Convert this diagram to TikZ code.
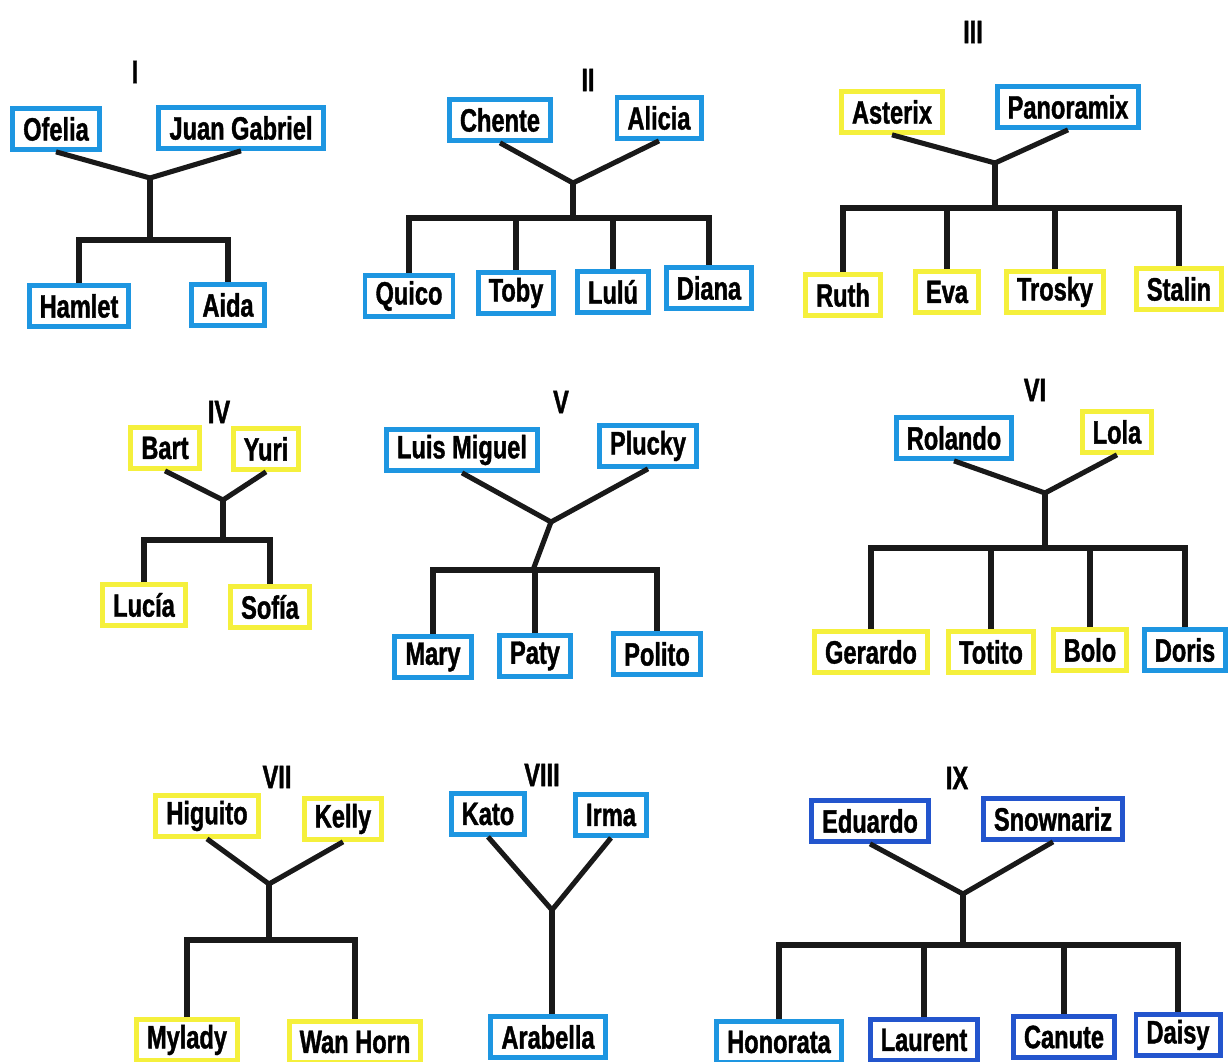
\documentclass[tikz,border=0pt]{standalone}
\usepackage{fontspec}
\newfontfamily\namefont{Liberation Sans}[FakeStretch=0.73, FakeBold=1.2]
\definecolor{famblue}{RGB}{30, 150, 225}
\definecolor{famdark}{RGB}{35, 85, 205}
\definecolor{famyellow}{RGB}{245, 240, 60}

\begin{document}
\begin{tikzpicture}[
      x=0.025cm, y=-0.025cm,
      person/.style={draw, line width=3.5pt, fill=white, inner xsep=7.5pt, inner ysep=0pt, minimum height=29pt, font=\namefont\bfseries\fontsize{23}{25}\selectfont},
      bl/.style={person, draw=famblue},
      yl/.style={person, draw=famyellow},
      db/.style={person, draw=famdark},
      num/.style={font=\namefont\bfseries\fontsize{23}{25}\selectfont},
      link/.style={line width=3.6pt, black!90}
    ]
      \useasboundingbox (0,0) rectangle (1230,1062);

      % I
      \node[num] (n1) at (135,72) {I};
      \node[bl] (Ofelia) at (56,129) {Ofelia};
      \node[bl] (Juan) at (241,128) {Juan Gabriel};
      \node[bl] (Hamlet) at (79,306) {Hamlet};
      \node[bl] (Aida) at (228,305) {Aida};
      \coordinate (j1) at (150,178);
      \coordinate (b1) at (150,240);
      \draw[link] (Ofelia.south) -- (j1) -- (Juan.south);
      \draw[link] (j1) -- (b1);
      \draw[link] (Hamlet) |- (b1) -| (Aida);

      % II
      \node[num] (n2) at (588,80) {II};
      \node[bl] (Chente) at (500,120) {Chente};
      \node[bl] (Alicia) at (659,118) {Alicia};
      \node[bl] (Quico) at (409,296) {Quico};
      \node[bl] (Toby) at (516,293) {Toby};
      \node[bl] (Lulu) at (613,292) {Lulú};
      \node[bl] (Diana) at (709,288) {Diana};
      \coordinate (j2) at (573,183);
      \coordinate (b2) at (573,218);
      \draw[link] (Chente.south) -- (j2) -- (Alicia.south);
      \draw[link] (j2) -- (b2);
      \draw[link] (Quico) |- (b2) -| (Diana);
      \draw[link] (Toby) -- (Toby |- b2);
      \draw[link] (Lulu) -- (Lulu |- b2);

      % III
      \node[num] (n3) at (973,32) {III};
      \node[yl] (Asterix) at (892,112) {Asterix};
      \node[bl] (Panoramix) at (1068,107) {Panoramix};
      \node[yl] (Ruth) at (843,295) {Ruth};
      \node[yl] (Eva) at (947,292) {Eva};
      \node[yl] (Trosky) at (1055,292) {Trosky};
      \node[yl] (Stalin) at (1179,289) {Stalin};
      \coordinate (j3) at (995,163);
      \coordinate (b3) at (995,208);
      \draw[link] (Asterix.south) -- (j3) -- (Panoramix.south);
      \draw[link] (j3) -- (b3);
      \draw[link] (Ruth) |- (b3) -| (Stalin);
      \draw[link] (Eva) -- (Eva |- b3);
      \draw[link] (Trosky) -- (Trosky |- b3);

      % IV
      \node[num] (n4) at (219,412) {IV};
      \node[yl] (Bart) at (165,448) {Bart};
      \node[yl] (Yuri) at (266,449) {Yuri};
      \node[yl] (Lucia) at (144,605) {Lucía};
      \node[yl] (Sofia) at (270,607) {Sofía};
      \coordinate (j4) at (223,500);
      \coordinate (b4) at (223,540);
      \draw[link] (Bart.south) -- (j4) -- (Yuri.south);
      \draw[link] (j4) -- (b4);
      \draw[link] (Lucia) |- (b4) -| (Sofia);

      % V
      \node[num] (n5) at (561,402) {V};
      \node[bl] (LuisM) at (462,450) {Luis Miguel};
      \node[bl] (Plucky) at (648,446) {Plucky};
      \node[bl] (Mary) at (433,657) {Mary};
      \node[bl] (Paty) at (535,656) {Paty};
      \node[bl] (Polito) at (657,654) {Polito};
      \coordinate (j5) at (551,522);
      \coordinate (b5) at (533,570);
      \draw[link] (LuisM.south) -- (j5) -- (Plucky.south);
      \draw[link] (j5) -- (b5);
      \draw[link] (Mary) |- (b5) -| (Polito);
      \draw[link] (Paty) -- (Paty |- b5);

      % VI
      \node[num] (n6) at (1035,390) {VI};
      \node[bl] (Rolando) at (954,438) {Rolando};
      \node[yl] (Lola) at (1117,432) {Lola};
      \node[yl] (Gerardo) at (871,652) {Gerardo};
      \node[yl] (Totito) at (991,652) {Totito};
      \node[yl] (Bolo) at (1090,650) {Bolo};
      \node[bl] (Doris) at (1185,650) {Doris};
      \coordinate (j6) at (1045,493);
      \coordinate (b6) at (1045,548);
      \draw[link] (Rolando.south) -- (j6) -- (Lola.south);
      \draw[link] (j6) -- (b6);
      \draw[link] (Gerardo) |- (b6) -| (Doris);
      \draw[link] (Totito) -- (Totito |- b6);
      \draw[link] (Bolo) -- (Bolo |- b6);

      % VII
      \node[num] (n7) at (277,777) {VII};
      \node[yl] (Higuito) at (207,816) {Higuito};
      \node[yl] (Kelly) at (343,819) {Kelly};
      \node[yl] (Mylady) at (187,1040) {Mylady};
      \node[yl] (Wan) at (355,1042) {Wan Horn};
      \coordinate (j7) at (269,884);
      \coordinate (b7) at (269,940);
      \draw[link] (Higuito.south) -- (j7) -- (Kelly.south);
      \draw[link] (j7) -- (b7);
      \draw[link] (Mylady) |- (b7) -| (Wan);

      % VIII
      \node[num] (n8) at (542,775) {VIII};
      \node[bl] (Kato) at (488,814) {Kato};
      \node[bl] (Irma) at (611,815) {Irma};
      \node[bl] (Arabella) at (548,1037) {Arabella};
      \coordinate (j8) at (552,910);
      \draw[link] (Kato.south) -- (j8) -- (Irma.south);
      \draw[link] (j8) -- (j8 |- Arabella.north);

      % IX
      \node[num] (n9) at (957,778) {IX};
      \node[db] (Eduardo) at (870,821) {Eduardo};
      \node[db] (Snownariz) at (1053,819) {Snownariz};
      \node[bl] (Honorata) at (779,1042) {Honorata};
      \node[db] (Laurent) at (924,1040) {Laurent};
      \node[db] (Canute) at (1064,1037) {Canute};
      \node[db] (Daisy) at (1178,1035) {Daisy};
      \coordinate (j9) at (963,894);
      \coordinate (b9) at (963,945);
      \draw[link] (Eduardo.south) -- (j9) -- (Snownariz.south);
      \draw[link] (j9) -- (b9);
      \draw[link] (Honorata) |- (b9) -| (Daisy);
      \draw[link] (Laurent) -- (Laurent |- b9);
      \draw[link] (Canute) -- (Canute |- b9);
    \end{tikzpicture}
\end{document}
